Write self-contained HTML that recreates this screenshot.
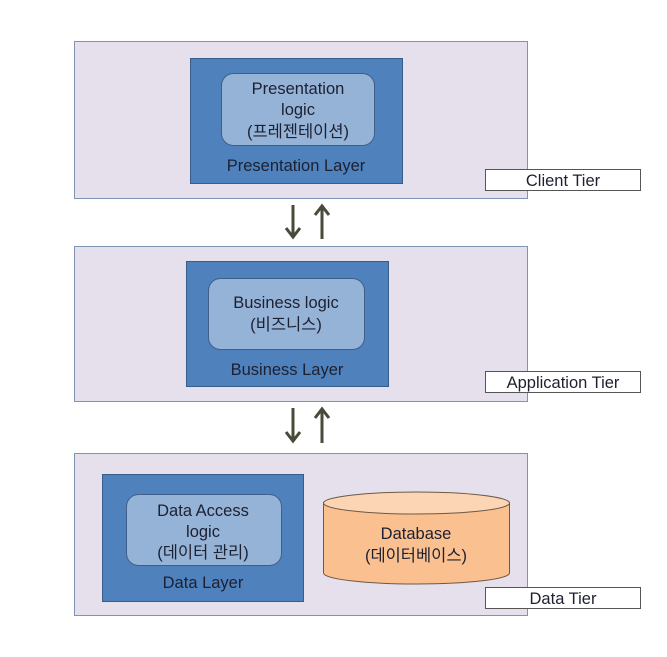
<!DOCTYPE html>
<html><head><meta charset="utf-8"><style>
html,body{margin:0;padding:0;background:#fff;}
text{font-family:"Liberation Sans","Noto Sans CJK KR",sans-serif;font-size:16.5px;fill:#1d2030;}
</style></head><body>
<svg width="667" height="652" xmlns="http://www.w3.org/2000/svg">
<!-- Tier 1 -->
<rect x="74.5" y="41.5" width="453" height="157" fill="#e6e0ec" stroke="#7f93b5"/>
<rect x="190.5" y="58.5" width="212" height="125" fill="#4f81bd" stroke="#385d8a"/>
<rect x="221.5" y="73.5" width="153" height="72" rx="12" fill="#95b3d7" stroke="#3f5f8a"/>
<text x="298" y="94" text-anchor="middle">Presentation</text>
<text x="298" y="115" text-anchor="middle">logic</text>
<text x="298" y="137" text-anchor="middle">(프레젠테이션)</text>
<text x="296" y="171" text-anchor="middle">Presentation Layer</text>
<rect x="485.5" y="169.5" width="155" height="21" fill="#fff" stroke="#555"/>
<text x="563" y="186" text-anchor="middle">Client  Tier</text>
<!-- arrows 1 -->
<g stroke="#4a4a3a" stroke-width="3" fill="none"><path d="M293 205V236M286 228L293 237L300 228"/><path d="M322 239V207M315 215L322 206L329 215"/></g>
<!-- Tier 2 -->
<rect x="74.5" y="246.5" width="453" height="155" fill="#e6e0ec" stroke="#7f93b5"/>
<rect x="186.5" y="261.5" width="202" height="125" fill="#4f81bd" stroke="#385d8a"/>
<rect x="208.5" y="278.5" width="156" height="71" rx="12" fill="#95b3d7" stroke="#3f5f8a"/>
<text x="286" y="308" text-anchor="middle">Business logic</text>
<text x="286" y="330" text-anchor="middle">(비즈니스)</text>
<text x="287" y="375" text-anchor="middle">Business  Layer</text>
<rect x="485.5" y="371.5" width="155" height="21" fill="#fff" stroke="#555"/>
<text x="563" y="388" text-anchor="middle">Application Tier</text>
<!-- arrows 2 -->
<g stroke="#4a4a3a" stroke-width="3" fill="none"><path d="M293 408V440M286 432L293 441L300 432"/><path d="M322 443V410M315 418L322 409L329 418"/></g>
<!-- Tier 3 -->
<rect x="74.5" y="453.5" width="453" height="162" fill="#e6e0ec" stroke="#7f93b5"/>
<rect x="102.5" y="474.5" width="201" height="127" fill="#4f81bd" stroke="#385d8a"/>
<rect x="126.5" y="494.5" width="155" height="71" rx="12" fill="#95b3d7" stroke="#3f5f8a"/>
<text x="203" y="516" text-anchor="middle">Data Access</text>
<text x="203" y="537" text-anchor="middle">logic</text>
<text x="203" y="558" text-anchor="middle">(데이터 관리)</text>
<text x="203" y="588" text-anchor="middle">Data Layer</text>
<path d="M323.5 503V573A93 11 0 0 0 509.5 573V503" fill="#fac090" stroke="#6d5a45"/>
<ellipse cx="416.5" cy="503" rx="93" ry="11" fill="#fcd5b5" stroke="#6d5a45"/>
<text x="416" y="539" text-anchor="middle">Database</text>
<text x="416" y="561" text-anchor="middle">(데이터베이스)</text>
<rect x="485.5" y="587.5" width="155" height="21" fill="#fff" stroke="#555"/>
<text x="563" y="604" text-anchor="middle">Data  Tier</text>
</svg>
</body></html>
